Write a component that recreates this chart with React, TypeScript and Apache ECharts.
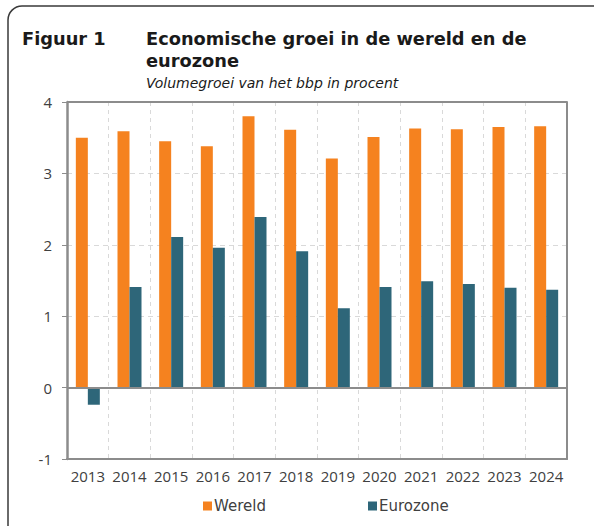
import React, { useEffect, useRef } from "react";
import * as echarts from "echarts";

const years = ["2013", "2014", "2015", "2016", "2017", "2018", "2019", "2020", "2021", "2022", "2023", "2024"];
const wereld = [3.5, 3.59, 3.45, 3.38, 3.8, 3.61, 3.21, 3.51, 3.63, 3.62, 3.65, 3.66];
const eurozone = [-0.24, 1.41, 2.11, 1.96, 2.39, 1.91, 1.11, 1.41, 1.49, 1.45, 1.4, 1.37];
const seriesNames = ["Wereld", "Eurozone"];
const frameLines = [-1, 0, 4];
const titleLabel = "Figuur 1";
const titleLine1 = "Economische groei in de wereld en de";
const titleLine2 = "eurozone";
const subtitle = "Volumegroei van het bbp in procent";

const ORANGE = "#F5821F";
const TEAL = "#2E6679";
const AXIS = "#8C8C8C";
const GRID = "#D9D9D9";
const TEXT = "#404040";
const TITLE_FONT = "'DejaVu Sans', 'Noto Sans', sans-serif";
const LABEL_FONT = "'Open Sans', 'Noto Sans', sans-serif";

export default function App() {
  const ref = useRef<HTMLDivElement>(null);
  useEffect(() => {
    document.body.style.margin = "0";
    if (!ref.current) return;
    const chart = echarts.init(ref.current, null, { renderer: "svg" });
    const legendText = { color: TEXT, fontSize: 15, lineHeight: 16, fontFamily: TITLE_FONT, padding: [0, 0, 0, -3] };
    chart.setOption({
      animation: false,
      backgroundColor: "#ffffff",
      graphic: [
        {
          type: "rect",
          shape: { x: 8, y: 6, width: 640, height: 580, r: 14 },
          style: { fill: "none", stroke: "#3a3a3a", lineWidth: 1.5 },
          silent: true,
        },
        {
          type: "text",
          left: 22,
          top: 29,
          style: { text: titleLabel, font: `bold 17.8px ${TITLE_FONT}`, fill: "#1a1a1a" },
        },
        {
          type: "text",
          left: 146,
          top: 29,
          style: { text: titleLine1, font: `bold 17.8px ${TITLE_FONT}`, fill: "#1a1a1a" },
        },
        {
          type: "text",
          left: 146,
          top: 51,
          style: { text: titleLine2, font: `bold 17.8px ${TITLE_FONT}`, fill: "#1a1a1a" },
        },
        {
          type: "text",
          left: 146,
          top: 76,
          style: { text: subtitle, font: `italic 14px ${TITLE_FONT}`, fill: "#1a1a1a" },
        },
      ],
      grid: {
        left: 67,
        top: 102,
        right: 27,
        bottom: 67,
        outerBoundsMode: "none",
        containLabel: false,
        show: false,
      },
      legend: [
        {
          data: [seriesNames[0]],
          left: 203,
          top: 498,
          padding: 0,
          icon: "rect",
          itemWidth: 9,
          itemHeight: 9,
          textStyle: legendText,
        },
        {
          data: [seriesNames[1]],
          left: 368,
          top: 498,
          padding: 0,
          icon: "rect",
          itemWidth: 9,
          itemHeight: 9,
          textStyle: legendText,
        },
      ],
      xAxis: {
        type: "category",
        data: years,
        boundaryGap: true,
        axisLine: { show: true, onZero: false, lineStyle: { color: AXIS, width: 2 } },
        axisTick: { show: false, interval: 0 },
        axisLabel: { color: TEXT, fontSize: 15, fontFamily: LABEL_FONT, margin: 9, interval: 0, hideOverlap: false },
        splitLine: { show: true, interval: 0, lineStyle: { color: GRID, type: [4, 4], width: 1 } },
      },
      yAxis: [
        {
          type: "value",
          min: -1,
          max: 4,
          interval: 1,
          axisLine: { show: true, lineStyle: { color: AXIS, width: 2.5 } },
          axisTick: { show: true, length: 5, lineStyle: { color: AXIS } },
          axisLabel: { color: TEXT, fontSize: 15, fontFamily: LABEL_FONT, margin: 15 },
          splitLine: { show: true, lineStyle: { color: GRID, type: [5, 4], width: 1 } },
        },
        {
          type: "value",
          position: "right",
          min: -1,
          max: 4,
          interval: 1,
          axisLine: { show: true, lineStyle: { color: AXIS, width: 2 } },
          axisTick: { show: false },
          axisLabel: { show: false },
          splitLine: { show: false },
        },
      ],
      series: [
        {
          name: seriesNames[0],
          type: "bar",
          data: wereld,
          barWidth: 12,
          barGap: "0%",
          itemStyle: { color: ORANGE },
          markLine: {
            silent: true,
            symbol: "none",
            label: { show: false },
            lineStyle: { color: AXIS, width: 2, type: "solid" },
            data: frameLines.map((v) => ({ yAxis: v })),
          },
        },
        {
          name: seriesNames[1],
          type: "bar",
          data: eurozone,
          barWidth: 12,
          barGap: "0%",
          itemStyle: { color: TEAL },
        },
      ],
    });
    return () => chart.dispose();
  }, []);
  return <div ref={ref} style={{ width: 594, height: 526 }} />;
}
